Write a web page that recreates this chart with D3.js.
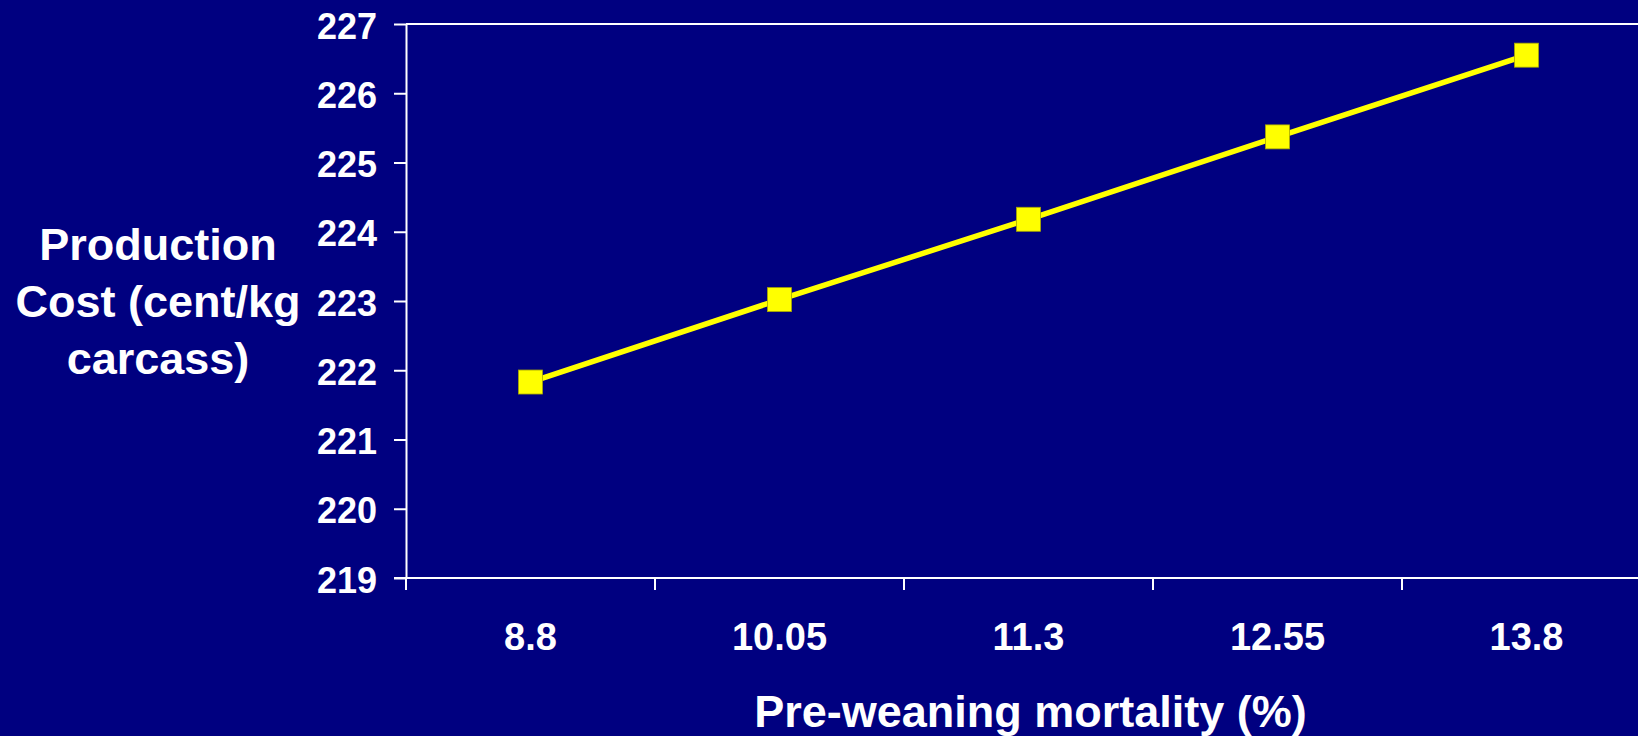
<!DOCTYPE html>
<html>
<head>
<meta charset="utf-8">
<script src="https://cdn.jsdelivr.net/npm/d3@7"></script>
<style>
  html, body { margin: 0; padding: 0; background: #000080; }
  svg { display: block; }
  text { font-family: "Liberation Sans", Arial, sans-serif; font-weight: bold; fill: #ffffff; }
</style>
</head>
<body>
<svg id="chart" width="1638" height="736"></svg>
<script>
// Pre-weaning mortality levels (%) and resulting production cost (cent/kg carcass)
const categories = ["8.8", "10.05", "11.3", "12.55", "13.8"];
const costValues = [221.83, 223.02, 224.18, 225.37, 226.55];
const yTicks = [219, 220, 221, 222, 223, 224, 225, 226, 227];
const yTitleLines = ["Production", "Cost (cent/kg", "carcass)"];
const xTitle = "Pre-weaning mortality (%)";

const W = 1638, H = 736;
const plotLeft = 406, plotTop = 24, plotBottom = 578, plotRight = 1651;

const svg = d3.select("#chart");
svg.append("rect").attr("width", W).attr("height", H).attr("fill", "#000080");

const x = d3.scaleBand().domain(categories).range([plotLeft, plotRight]).padding(0);
const y = d3.scaleLinear().domain([219, 227]).range([plotBottom, plotTop]);
const cx = c => x(c) + x.bandwidth() / 2;

// plot frame: top and right edges
svg.append("path")
  .attr("d", `M${plotLeft},${plotTop}H${plotRight}V${plotBottom}`)
  .attr("fill", "none").attr("stroke", "#ffffff").attr("stroke-width", 2);

// y axis
const yAxis = svg.append("g")
  .attr("transform", `translate(${plotLeft},0)`)
  .call(d3.axisLeft(y).tickValues(yTicks).tickFormat(d3.format("d")).tickSize(12).tickSizeOuter(0).tickPadding(17));
yAxis.select(".domain").attr("stroke", "#ffffff").attr("stroke-width", 2);
yAxis.selectAll(".tick line").attr("stroke", "#ffffff").attr("stroke-width", 2);
yAxis.selectAll(".tick text")
  .attr("font-size", 36).attr("dy", null).attr("y", 14)
  .style("font-family", "'Liberation Sans', Arial, sans-serif").style("font-weight", "bold").attr("fill", "#ffffff");

// x axis: baseline, band boundary ticks, centred category labels
const xg = svg.append("g");
xg.append("line")
  .attr("x1", plotLeft - 12).attr("x2", plotRight).attr("y1", plotBottom).attr("y2", plotBottom)
  .attr("stroke", "#ffffff").attr("stroke-width", 2);
const bounds = categories.map(c => x(c)).concat([x(categories[categories.length - 1]) + x.bandwidth()]);
xg.selectAll("line.bound").data(bounds).join("line")
  .attr("class", "bound")
  .attr("x1", d => d).attr("x2", d => d)
  .attr("y1", plotBottom).attr("y2", plotBottom + 12)
  .attr("stroke", "#ffffff").attr("stroke-width", 2);
xg.selectAll("text.cat").data(categories).join("text")
  .attr("class", "cat")
  .attr("x", d => cx(d)).attr("y", 650)
  .attr("text-anchor", "middle").attr("font-size", 38)
  .text(d => d);

// series line
const line = d3.line().x((d, i) => cx(categories[i])).y(d => y(d));
svg.append("path")
  .datum(costValues)
  .attr("d", line)
  .attr("fill", "none").attr("stroke", "#ffff00").attr("stroke-width", 5.5);

// square markers
const ms = 24;
svg.selectAll("rect.marker").data(costValues).join("rect")
  .attr("class", "marker")
  .attr("x", (d, i) => cx(categories[i]) - ms / 2)
  .attr("y", d => y(d) - ms / 2)
  .attr("width", ms).attr("height", ms)
  .attr("fill", "#ffff00").attr("stroke", "#a8a800").attr("stroke-width", 0.8);

// axis titles
svg.append("text")
  .attr("x", (plotLeft + plotRight) / 2 + 2).attr("y", 727)
  .attr("text-anchor", "middle").attr("font-size", 45)
  .text(xTitle);

svg.append("g").selectAll("text").data(yTitleLines).join("text")
  .attr("x", 158).attr("y", (d, i) => 260 + i * 57)
  .attr("text-anchor", "middle").attr("font-size", 45)
  .text(d => d);
</script>
</body>
</html>
